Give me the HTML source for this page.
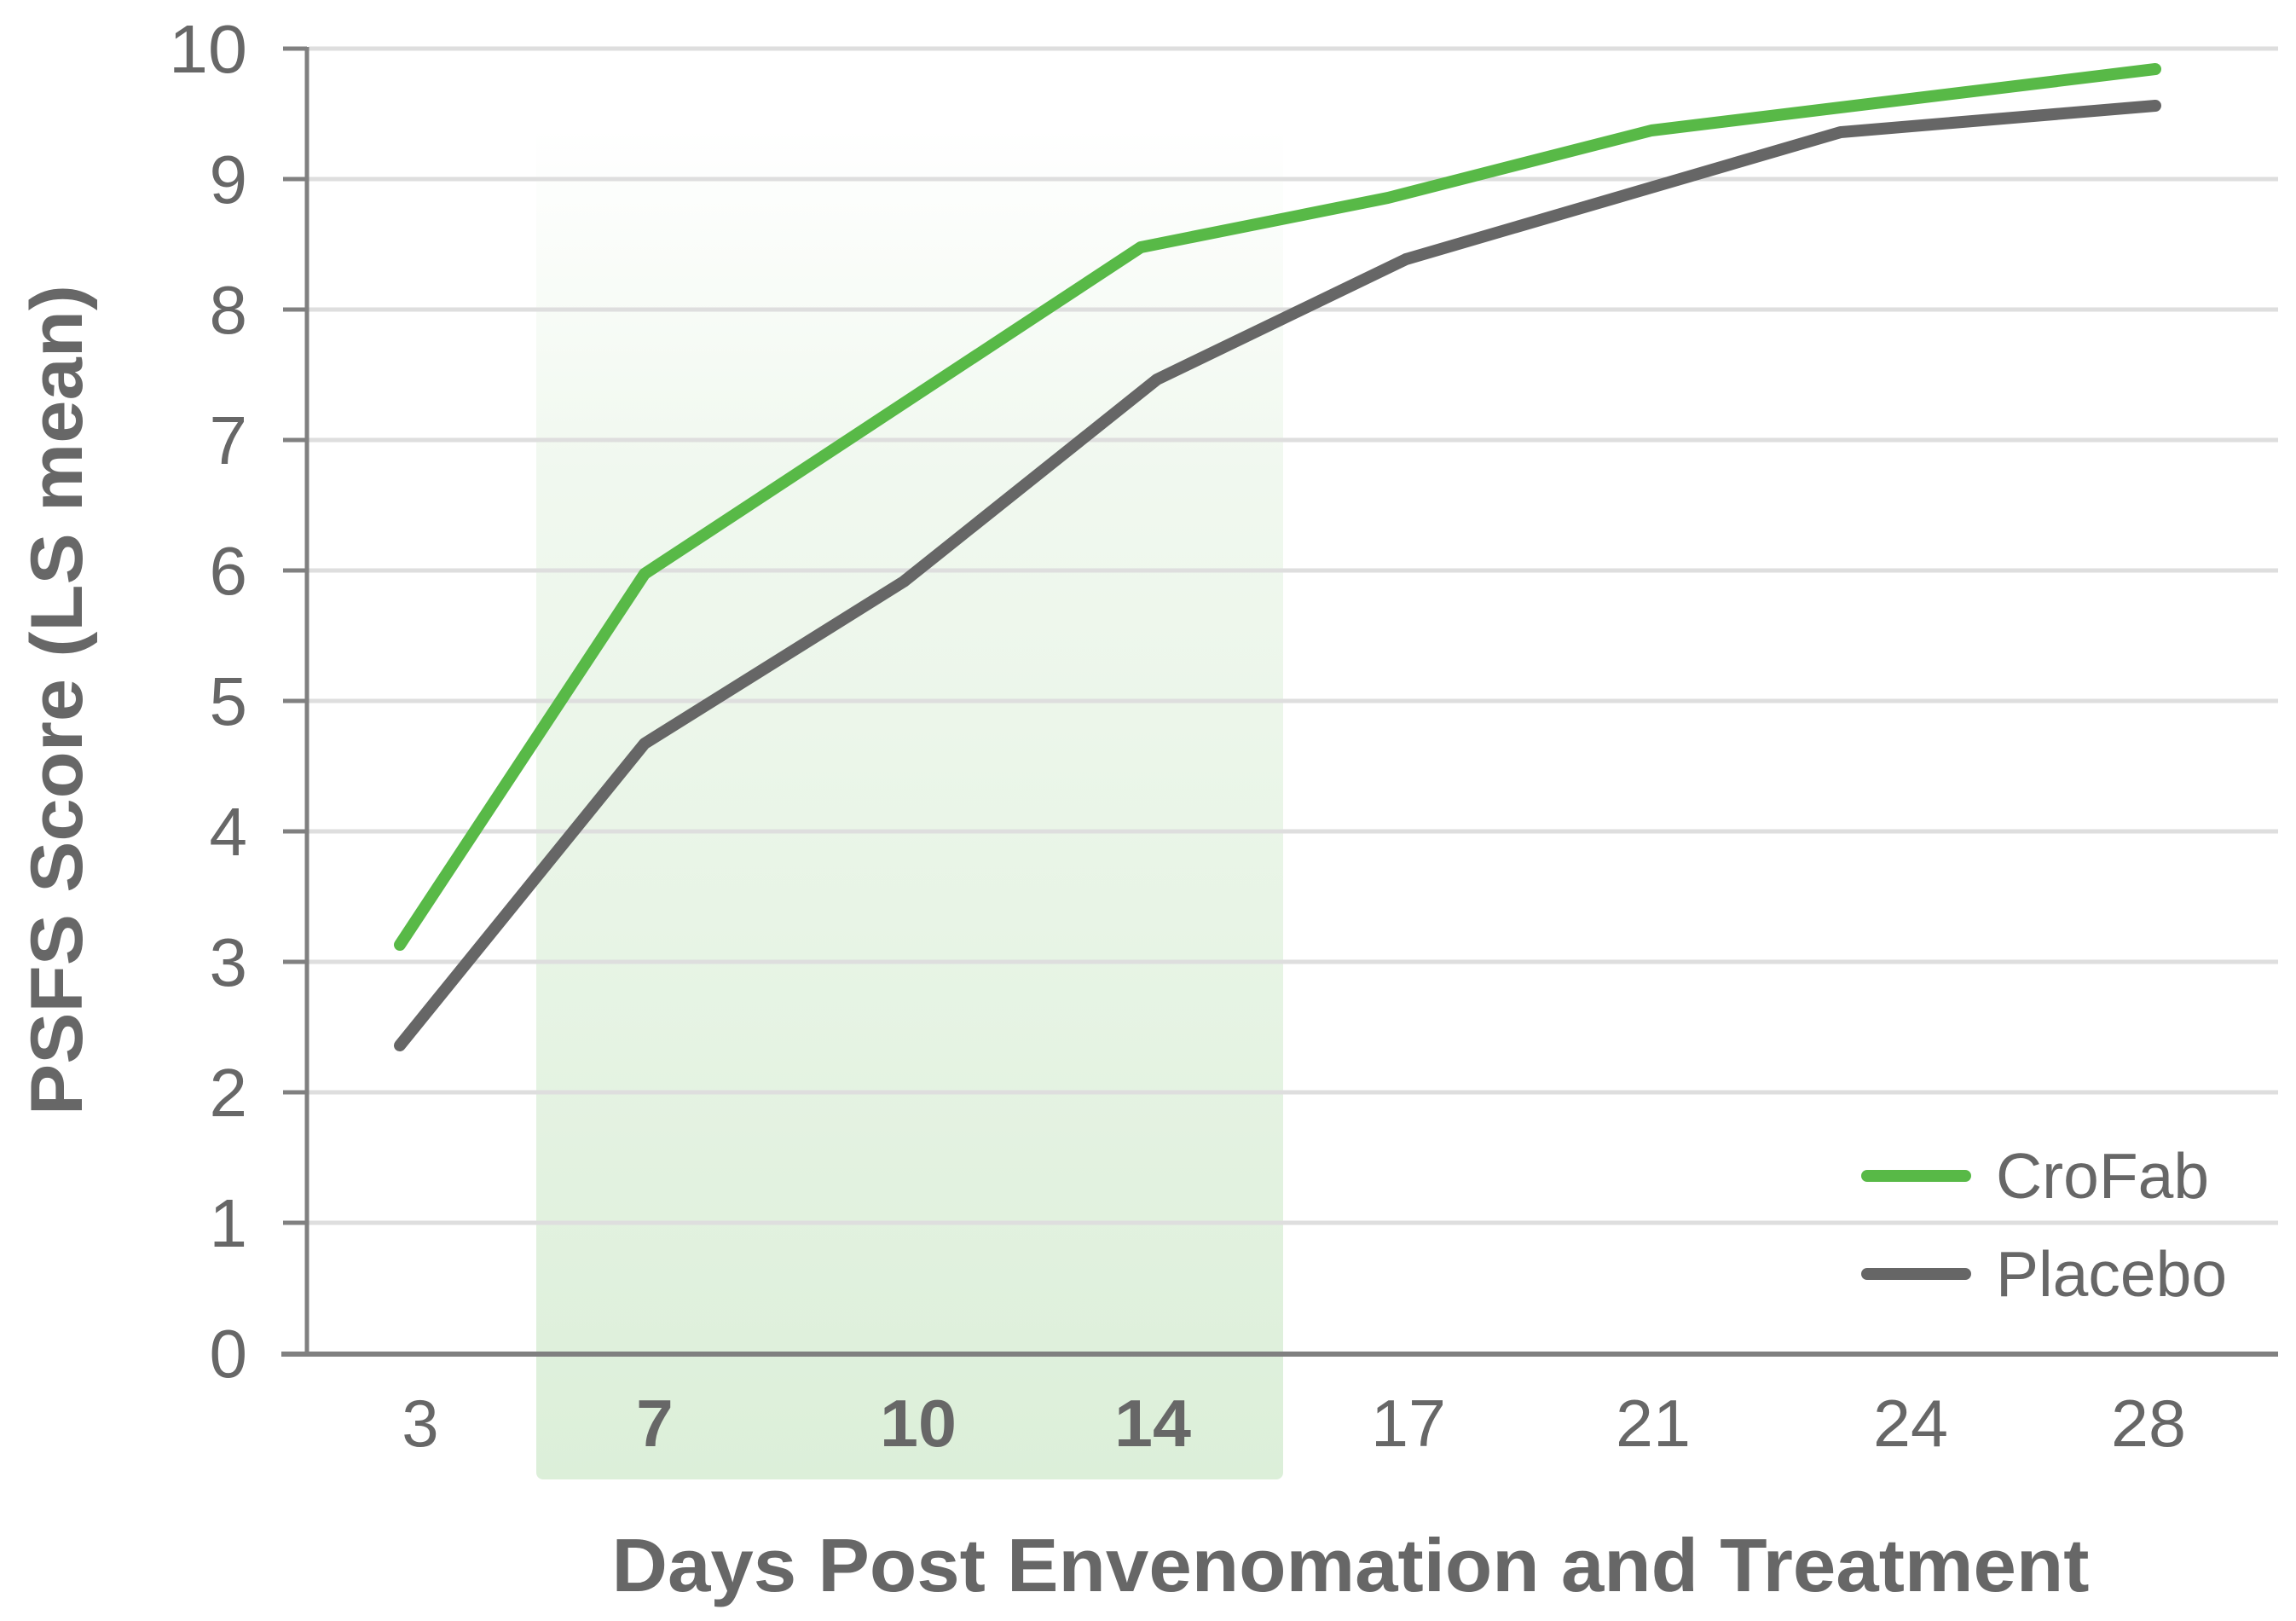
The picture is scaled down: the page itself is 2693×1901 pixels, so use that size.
<!DOCTYPE html>
<html><head><meta charset="utf-8"><style>
html,body{margin:0;padding:0;background:#fff;}
svg{display:block;}
text{font-family:"Liberation Sans",Arial,sans-serif;fill:#676767;}
</style></head><body>
<svg width="2693" height="1901" viewBox="0 0 2693 1901" xmlns="http://www.w3.org/2000/svg">
<defs>
<linearGradient id="sh" x1="0" y1="0" x2="0" y2="1">
<stop offset="0" stop-color="#dff0dc" stop-opacity="0"/>
<stop offset="0.25" stop-color="#dff0dc" stop-opacity="0.45"/>
<stop offset="1" stop-color="#dcefd9" stop-opacity="1"/>
</linearGradient>
</defs>
<rect x="629" y="150" width="876" height="1585" rx="8" fill="url(#sh)"/>
<g stroke="#dedede" stroke-width="5">
<line x1="362" y1="57" x2="2672" y2="57"/>
<line x1="362" y1="210" x2="2672" y2="210"/>
<line x1="362" y1="363" x2="2672" y2="363"/>
<line x1="362" y1="516" x2="2672" y2="516"/>
<line x1="362" y1="669" x2="2672" y2="669"/>
<line x1="362" y1="822" x2="2672" y2="822"/>
<line x1="362" y1="975" x2="2672" y2="975"/>
<line x1="362" y1="1128" x2="2672" y2="1128"/>
<line x1="362" y1="1281" x2="2672" y2="1281"/>
<line x1="362" y1="1434" x2="2672" y2="1434"/>
</g>
<g stroke="#808080" stroke-width="5">
<line x1="360" y1="55" x2="360" y2="1590"/>
<line x1="330" y1="1588" x2="2672" y2="1588" stroke-width="6"/>
<line x1="332" y1="57" x2="360" y2="57"/>
<line x1="332" y1="210" x2="360" y2="210"/>
<line x1="332" y1="363" x2="360" y2="363"/>
<line x1="332" y1="516" x2="360" y2="516"/>
<line x1="332" y1="669" x2="360" y2="669"/>
<line x1="332" y1="822" x2="360" y2="822"/>
<line x1="332" y1="975" x2="360" y2="975"/>
<line x1="332" y1="1128" x2="360" y2="1128"/>
<line x1="332" y1="1281" x2="360" y2="1281"/>
<line x1="332" y1="1434" x2="360" y2="1434"/>
</g>
<g font-size="80" text-anchor="end">
<text x="290" y="85" textLength="92" lengthAdjust="spacingAndGlyphs">10</text>
<text x="290" y="238">9</text>
<text x="290" y="391">8</text>
<text x="290" y="544">7</text>
<text x="290" y="697">6</text>
<text x="290" y="850">5</text>
<text x="290" y="1003">4</text>
<text x="290" y="1156">3</text>
<text x="290" y="1309">2</text>
<text x="290" y="1462">1</text>
<text x="290" y="1615">0</text>
</g>
<g font-size="78" text-anchor="middle">
<text x="493" y="1696">3</text>
<text x="768" y="1696" font-weight="bold">7</text>
<text x="1077" y="1696" font-weight="bold" textLength="90" lengthAdjust="spacingAndGlyphs">10</text>
<text x="1352" y="1696" font-weight="bold" textLength="90" lengthAdjust="spacingAndGlyphs">14</text>
<text x="1652" y="1696" textLength="88" lengthAdjust="spacingAndGlyphs">17</text>
<text x="1939" y="1696" textLength="88" lengthAdjust="spacingAndGlyphs">21</text>
<text x="2241" y="1696" textLength="88" lengthAdjust="spacingAndGlyphs">24</text>
<text x="2520" y="1696" textLength="88" lengthAdjust="spacingAndGlyphs">28</text>
</g>
<polyline fill="none" stroke="#666" stroke-width="14" stroke-linejoin="round" stroke-linecap="round" points="469,1226 756,872 1060,682 1357,445 1649,304 2159,155 2528,124"/>
<polyline fill="none" stroke="#58b947" stroke-width="14" stroke-linejoin="round" stroke-linecap="round" points="469,1108 756,673 1338,290 1628,232 1937,153 2528,81"/>
<line x1="2190" y1="1379" x2="2305" y2="1379" stroke="#58b947" stroke-width="14" stroke-linecap="round"/>
<line x1="2190" y1="1494" x2="2305" y2="1494" stroke="#666" stroke-width="14" stroke-linecap="round"/>
<text x="2341" y="1405" font-size="75">CroFab</text>
<text x="2341" y="1520" font-size="75">Placebo</text>
<text transform="translate(96,821) rotate(-90)" font-size="86" font-weight="bold" text-anchor="middle" textLength="974" lengthAdjust="spacingAndGlyphs">PSFS Score (LS mean)</text>
<text x="1584" y="1866" font-size="88" font-weight="bold" text-anchor="middle" textLength="1733" lengthAdjust="spacingAndGlyphs">Days Post Envenomation and Treatment</text>
</svg>
</body></html>
